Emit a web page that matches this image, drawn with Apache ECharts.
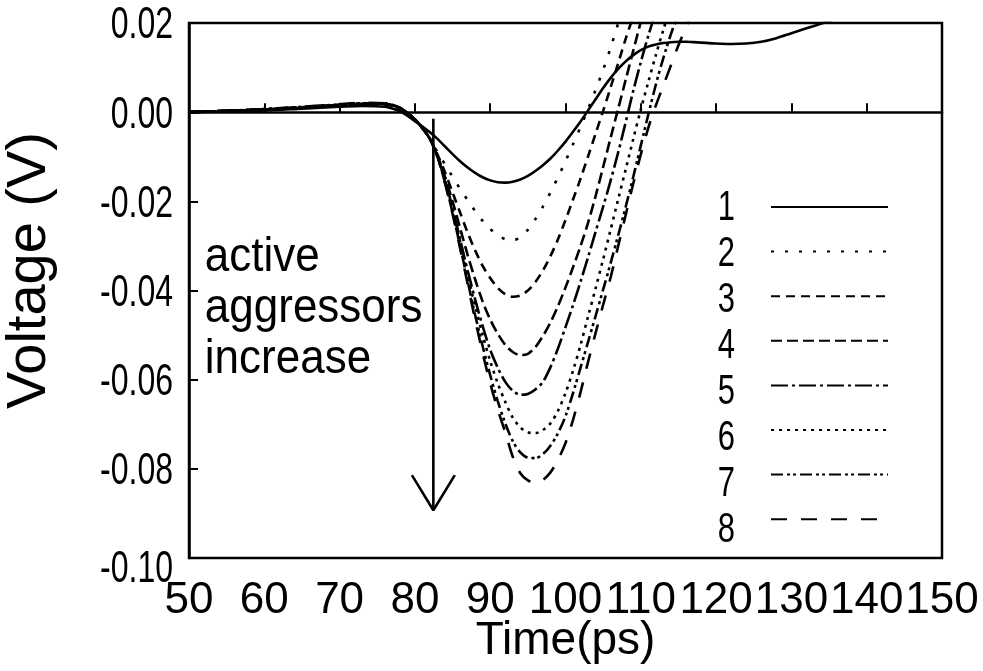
<!DOCTYPE html>
<html>
<head>
<meta charset="utf-8">
<script src="https://cdn.jsdelivr.net/npm/echarts@6/dist/echarts.min.js"></script>
<style>html,body{margin:0;padding:0;background:#fff;}#c{width:983px;height:671px;}</style>
</head>
<body>
<div id="c"></div>
<script>
// Time axis (ps)
var times = [50,55,60,65,70,73,76,78,79,80,81,82,83,84,85,86,87,88,89,90,91,92,93,94,95,96,97,98,99,100,101,102,103,104,105,106,107,108,109,110,111,112,113,114,115,116,117,118,120,122,124,126,128,130,132,134,136];

// Voltage (V) per number of active aggressors
var v1 = [0,0.0002,0.0004,0.0008,0.0012,0.0014,0.0012,0.0002,-0.0008,-0.0020,-0.0032,-0.0045,-0.006,-0.0077,-0.0094,-0.011,-0.0124,-0.0136,-0.0146,-0.0153,-0.0157,-0.0158,-0.0156,-0.0151,-0.0143,-0.0132,-0.0119,-0.0104,-0.0086,-0.0066,-0.0044,-0.0021,0.0004,0.0029,0.0054,0.0077,0.0097,0.0114,0.0128,0.0139,0.0147,0.0152,0.0155,0.0157,0.0158,0.0158,0.0157,0.0156,0.0154,0.0153,0.0154,0.0158,0.0166,0.0177,0.0188,0.0199,0.0210];
var v2 = [0,0.0003,0.0006,0.001,0.0015,0.0018,0.0017,0.0008,-0.0002,-0.0016,-0.0036,-0.006,-0.009,-0.0117,-0.0145,-0.0172,-0.0197,-0.0222,-0.0244,-0.0262,-0.0276,-0.0285,-0.0287,-0.0281,-0.0264,-0.0240,-0.0212,-0.0180,-0.0146,-0.0110,-0.0072,-0.0033,0.0007,0.0050,0.0095,0.0145,0.0200,0.0260];
var v3 = [0,0.0003,0.0006,0.001,0.0015,0.0018,0.0018,0.0008,-0.0002,-0.0016,-0.0036,-0.006,-0.0095,-0.0135,-0.018,-0.0225,-0.027,-0.031,-0.0345,-0.0372,-0.0394,-0.0408,-0.0414,-0.0411,-0.0400,-0.0381,-0.0355,-0.0323,-0.0285,-0.0242,-0.0196,-0.0149,-0.0099,-0.0048,0.0003,0.0056,0.0110,0.0165,0.0215];
var v4 = [0,0.0003,0.0006,0.001,0.0016,0.0019,0.0018,0.0009,-0.0002,-0.0016,-0.0036,-0.006,-0.0098,-0.0145,-0.020,-0.026,-0.032,-0.0375,-0.0425,-0.0465,-0.0497,-0.0522,-0.0538,-0.0545,-0.0542,-0.0527,-0.0502,-0.0472,-0.0435,-0.0393,-0.0348,-0.0300,-0.0248,-0.0188,-0.0123,-0.0057,0.0008,0.0073,0.0138,0.0203];
var v5 = [0,0.0003,0.0006,0.0011,0.0016,0.0019,0.0019,0.0009,-0.0002,-0.0016,-0.0036,-0.006,-0.010,-0.0152,-0.0215,-0.0285,-0.0355,-0.042,-0.048,-0.0533,-0.0573,-0.0605,-0.0625,-0.0634,-0.0632,-0.0622,-0.0605,-0.0572,-0.0530,-0.0482,-0.0433,-0.0380,-0.0325,-0.0268,-0.0212,-0.0153,-0.0090,-0.0022,0.0048,0.0112,0.0172,0.0225];
var v6 = [0,0.0003,0.0007,0.0011,0.0017,0.002,0.0019,0.0009,-0.0002,-0.0016,-0.0036,-0.006,-0.010,-0.0155,-0.022,-0.029,-0.0365,-0.0435,-0.050,-0.0558,-0.0608,-0.0650,-0.0685,-0.0707,-0.0718,-0.0720,-0.0713,-0.0698,-0.0670,-0.0630,-0.0580,-0.0522,-0.0458,-0.0395,-0.0330,-0.0263,-0.0195,-0.0128,-0.0060,0.0006,0.0068,0.0128,0.0185,0.0240];
var v7 = [0,0.0003,0.0007,0.0012,0.0017,0.002,0.002,0.001,-0.0002,-0.0016,-0.0036,-0.006,-0.010,-0.0158,-0.0225,-0.030,-0.0378,-0.0455,-0.0525,-0.0590,-0.0648,-0.0698,-0.0738,-0.0763,-0.0775,-0.0776,-0.0767,-0.0748,-0.0720,-0.0682,-0.0630,-0.0573,-0.0515,-0.0457,-0.0398,-0.0338,-0.0276,-0.0212,-0.0145,-0.0075,-0.0005,0.0062,0.0122,0.0175,0.0222];
var v8 = [0,0.0003,0.0007,0.0012,0.0018,0.0021,0.002,0.001,-0.0002,-0.0016,-0.0036,-0.006,-0.010,-0.016,-0.0228,-0.0305,-0.0385,-0.0465,-0.0540,-0.0608,-0.0667,-0.0718,-0.0773,-0.0810,-0.0826,-0.0831,-0.0825,-0.0808,-0.0780,-0.0742,-0.0690,-0.0628,-0.0560,-0.0495,-0.0432,-0.0370,-0.0300,-0.0230,-0.0160,-0.0095,-0.0035,0.0015,0.0060,0.0105,0.0150,0.0190,0.0230];

var seriesNames = ['1','2','3','4','5','6','7','8'];
var seriesValues = [v1,v2,v3,v4,v5,v6,v7,v8];

var xTicks = [50,60,70,80,90,100,110,120,130,140,150];
var yTicks = [-0.10,-0.08,-0.06,-0.04,-0.02,0.00,0.02];

// annotation: arrow "active aggressors increase"
var arrowShaft = [[82.45,-0.0015],[82.45,-0.0890]];
var arrowHead = [[79.6,-0.0814],[82.45,-0.0893],[85.3,-0.0814]];
var annotationLines = ['active','aggressors','increase'];
var annotationAnchor = [52.1, -0.0326];

var dashes = ['solid',[3,11],[9,6],[11,5],[17,4,3,4],[3,5],[12,4,3,3,3,4],[16,14]];

var FONT = 'Liberation Sans, Arial, Helvetica, sans-serif';

function pairs(vals){
  var out = [];
  for (var i=0;i<vals.length;i++) out.push([times[i], vals[i]]);
  return out;
}

var series = seriesNames.map(function(n,i){
  return {
    name:n, type:'line', data:pairs(seriesValues[i]),
    symbol:'none', showSymbol:false, smooth:0.3, animation:false,
    lineStyle:{color:'#000', width:2.6, type:dashes[i]},
    itemStyle:{color:'#000'}
  };
});
series.push({type:'line', data:arrowShaft, symbol:'none', animation:false, silent:true,
  lineStyle:{color:'#000', width:2.6, type:'solid'}, z:5});
series.push({type:'line', data:arrowHead, symbol:'none', animation:false, silent:true,
  lineStyle:{color:'#000', width:2.6, type:'solid'}, z:5});

var LEG_TOP = 200, LEG_H = 14, LEG_GAP = 32;

var chart = echarts.init(document.getElementById('c'), null, {renderer:'canvas'});
var option = {
  backgroundColor:'#fff',
  animation:false,
  grid:{left:189, right:41, top:23, bottom:113, show:true, borderColor:'#000', borderWidth:2.5,
    containLabel:false, outerBoundsMode:'none'},
  xAxis:{
    type:'value', min:50, max:150, interval:10,
    name:'Time(ps)', nameLocation:'middle', nameGap:60, nameMoveOverlap:false,
    nameTextStyle:{fontFamily:FONT, fontSize:46, color:'#000'},
    axisLine:{show:true, lineStyle:{color:'#000', width:2.5}},
    axisTick:{show:true, inside:true, length:9, lineStyle:{color:'#000', width:2}},
    axisLabel:{fontFamily:FONT, fontSize:44, color:'#000', margin:21, showMinLabel:true, showMaxLabel:true, hideOverlap:false,
      formatter:function(v){ return String(Math.round(v)); }},
    splitLine:{show:false}
  },
  yAxis:{
    type:'value', min:-0.10, max:0.02, interval:0.02,
    name:'Voltage (V)', nameLocation:'middle', nameGap:131, nameRotate:90, nameMoveOverlap:false,
    nameTextStyle:{fontFamily:FONT, fontSize:56, color:'#000', padding:[0,0,0,40]},
    axisLine:{show:true, lineStyle:{color:'#000', width:2.5}},
    axisTick:{show:true, inside:true, length:9, lineStyle:{color:'#000', width:2}},
    axisLabel:{show:false},
    splitLine:{show:false}
  },
  legend:{
    data:seriesNames, orient:'vertical', align:'left', padding:0,
    left:770, top:LEG_TOP, itemWidth:117, itemHeight:LEG_H, itemGap:LEG_GAP,
    formatter:function(){ return ''; },
    textStyle:{color:'rgba(0,0,0,0)', fontSize:1},
    itemStyle:{opacity:0, color:'rgba(0,0,0,0)', borderWidth:0},
    selectedMode:false
  },
  series:series
};
chart.setOption(option);

var graphics = [];
// y tick labels (tall, narrow glyphs as in the reference)
yTicks.forEach(function(v, i){
  var p = chart.convertToPixel({gridIndex:0}, [50, v]);
  var off = (i === 0) ? 12 : 3;
  graphics.push({type:'text', x:p[0]-16, y:p[1]+off, scaleY:1.4, silent:true,
    style:{text:v.toFixed(2), x:0, y:0, font:'32px ' + FONT, fill:'#000',
      align:'right', verticalAlign:'middle', textAlign:'right', textVerticalAlign:'middle'}});
});
// legend labels
seriesNames.forEach(function(n, i){
  var cy = LEG_TOP + LEG_H/2 + i*(LEG_H + LEG_GAP);
  graphics.push({type:'text', x:735, y:cy+1, scaleY:1.4, silent:true,
    style:{text:n, x:0, y:0, font:'31px ' + FONT, fill:'#000',
      align:'right', verticalAlign:'middle', textAlign:'right', textVerticalAlign:'middle'}});
});
// annotation
var a = chart.convertToPixel({gridIndex:0}, annotationAnchor);
annotationLines.forEach(function(t, i){
  graphics.push({type:'text', x:a[0], y:a[1] + i*51, scaleY:1.1, silent:true,
    style:{text:t, x:0, y:0, font:'44px ' + FONT, fill:'#000',
      align:'left', verticalAlign:'middle', textAlign:'left', textVerticalAlign:'middle'}});
});
chart.setOption({graphic: graphics});
</script>
</body>
</html>
